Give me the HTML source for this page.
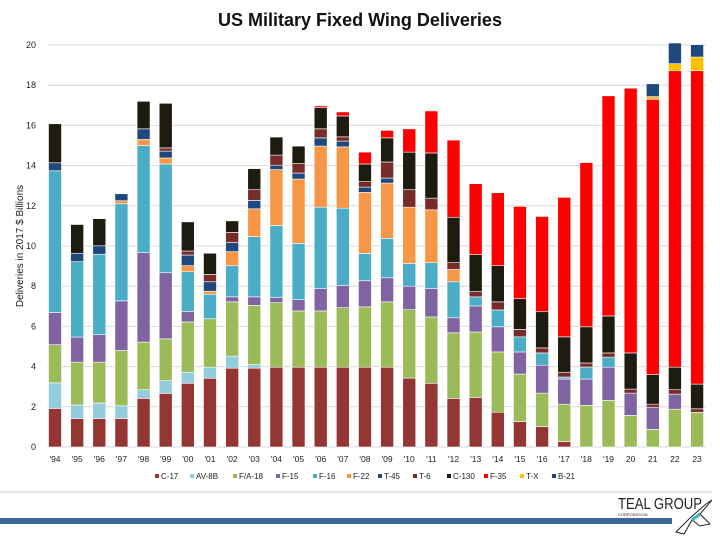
<!DOCTYPE html>
<html><head><meta charset="utf-8"><style>
body{margin:0;width:720px;height:540px;background:#fff;overflow:hidden;font-family:"Liberation Sans",sans-serif}
</style></head><body>
<svg id="c" width="720" height="540" xmlns="http://www.w3.org/2000/svg">
<text x="360" y="26" text-anchor="middle" font-size="18" font-weight="bold" fill="#111">US Military Fixed Wing Deliveries</text>
<text transform="translate(23,246) rotate(-90)" text-anchor="middle" font-size="10" fill="#222">Deliveries in 2017 $ Billions</text>
<line x1="0" y1="492" x2="712" y2="492" stroke="#ccc"/>
<rect x="0" y="518" width="672" height="6" fill="#3c6994"/>
<g>
<text x="618" y="509" font-size="16" fill="#222" textLength="84" lengthAdjust="spacingAndGlyphs">TEAL GROUP</text>
<text x="618" y="516" font-size="4" fill="#222">CORPORATION</text>
<path d="M676 532 L690 518 L706 504 L712 500 L700 514 L710 524 L700 526 L692 520 L684 534 Z" fill="none" stroke="#222" stroke-width="1"/>
<path d="M692 520 L700 514" stroke="#3cb8b8" stroke-width="3"/>
</g>
<g id="grid"></g><g id="bars"></g><g id="xl"></g><g id="leg"></g>
</svg>
<script>
const years=["'94","'95","'96","'97","'98","'99","'00","'01","'02","'03","'04","'05","'06","'07","'08","'09","'10","'11","'12","'13","'14","'15","'16","'17","'18","'19","20","21","22","23"];
const seriesNames=["C-17","AV-8B","F/A-18","F-15","F-16","F-22","T-45","T-6","C-130","F-35","T-X","B-21"];
const seriesColors=["#943634","#93cddd","#9bbb59","#8064a2","#4bacc6","#f79646","#1f497d","#772c2a","#1e1c11","#ff0000","#ffc000","#1f497d"];
const c17=[1.92,1.42,1.42,1.42,2.42,2.67,3.17,3.42,3.92,3.92,3.97,3.97,3.97,3.97,3.97,3.97,3.43,3.17,2.42,2.47,1.73,1.27,1.02,0.27,0,0,0,0,0,0];
const av8b=[1.27,0.67,0.77,0.63,0.43,0.63,0.55,0.55,0.6,0.18,0,0,0,0,0,0,0,0,0,0,0,0,0,0,0,0,0,0,0,0];
const fa18=[1.9,2.13,2.03,2.75,2.37,2.08,2.5,2.41,2.7,2.95,3.21,2.8,2.8,2.96,3.0,3.25,3.4,3.3,3.26,3.25,3.0,2.36,1.66,1.86,2.07,2.32,1.57,0.88,1.88,1.72];
const f15=[1.6,1.25,1.37,2.47,4.45,3.29,0.53,0,0.25,0.42,0.25,0.56,1.11,1.1,1.3,1.2,1.17,1.41,0.75,1.3,1.25,1.1,1.39,1.25,1.31,1.65,1.11,1.1,0.75,0];
const f16=[7.05,3.75,4.0,4.83,5.33,5.41,1.97,1.22,1.55,3.0,3.59,2.8,4.05,3.85,1.36,1.96,1.13,1.29,1.79,0.45,0.84,0.75,0.61,0.1,0.6,0.5,0,0,0,0];
const f22=[0,0,0,0.15,0.3,0.3,0.3,0.15,0.7,1.38,2.78,3.2,3.04,3.05,3.04,2.75,2.8,2.63,0.61,0,0,0,0,0,0,0,0,0,0,0];
const t45=[0.4,0.42,0.42,0.35,0.53,0.34,0.53,0.47,0.45,0.42,0.22,0.3,0.41,0.29,0.26,0.25,0,0,0,0,0,0,0,0,0,0,0,0,0,0];
const t6=[0,0,0,0,0,0.16,0.2,0.37,0.51,0.53,0.5,0.47,0.45,0.21,0.27,0.8,0.87,0.58,0.34,0.26,0.4,0.37,0.25,0.24,0.2,0.21,0.2,0.15,0.22,0.18];
const c130=[1.94,1.43,1.35,0,1.37,2.22,1.45,1.05,0.57,1.05,0.9,0.87,1.05,1.04,0.88,1.2,1.87,2.25,2.26,1.84,1.8,1.53,1.8,1.76,1.8,1.84,1.8,1.47,1.12,1.23];
const f35=[0,0,0,0,0,0,0,0,0,0,0,0,0.09,0.2,0.59,0.37,1.16,2.09,3.84,3.53,3.63,4.59,4.74,6.94,8.17,10.95,13.17,13.7,14.75,15.59];
const tx=[0,0,0,0,0,0,0,0,0,0,0,0,0,0,0,0,0,0,0,0,0,0,0,0,0,0,0,0.13,0.35,0.68];
const b21=[0,0,0,0,0,0,0,0,0,0,0,0,0,0,0,0,0,0,0,0,0,0,0,0,0,0,0,0.64,1.03,0.62];
const yTicks=[0,2,4,6,8,10,12,14,16,18,20];
const series=[c17,av8b,fa18,f15,f16,f22,t45,t6,c130,f35,tx,b21];
const NS="http://www.w3.org/2000/svg";
const y0=447,yTop=45,ymax=20;
const yS=v=>y0-(v/ymax)*(y0-yTop);
const xS=i=>55+i*22.14;
function mk(t,a,p){const e=document.createElementNS(NS,t);for(const k in a)e.setAttribute(k,a[k]);p.appendChild(e);return e;}
const g=document.getElementById('grid');
yTicks.forEach(t=>{
 const l=mk('line',{x1:47,x2:706,y1:yS(t),y2:yS(t),stroke:'#d9d9d9','stroke-width':1},g);
 
 
 const tx_=mk('text',{x:36,y:yS(t)+3,'text-anchor':'end','font-size':9,fill:'#222'},g);
 tx_.textContent=t;
 
 
});
const b=document.getElementById('bars');
years.forEach((yr,i)=>{
 let acc=0;
 series.forEach((s,k)=>{
  const v=s[i]; if(v<=0)return;
  const top=Math.max(yS(acc+v),yTop-2), bot=yS(acc);
  const r=mk('rect',{x:xS(i)-6.5,y:top,width:13,height:Math.max(bot-top,0),fill:seriesColors[k],stroke:'#fff','stroke-width':0.6},b);
  
  
  acc+=v;
 });
 const t=mk('text',{x:xS(i),y:462,'text-anchor':'middle','font-size':8.5,fill:'#222'},document.getElementById('xl'));
 t.textContent=yr;
 
 
});
const lg=document.getElementById('leg');
const lx=[155,190,233,276,313,347,378,413,447,484,520,552];
seriesNames.forEach((n,k)=>{
 const gg=mk('g',{},lg);
 
 
 mk('rect',{x:lx[k],y:474,width:4,height:4,fill:seriesColors[k]},gg);
 const t=mk('text',{x:lx[k]+6,y:479,'font-size':8,fill:'#222'},gg);
 t.textContent=n;
});
</script>
</body></html>
